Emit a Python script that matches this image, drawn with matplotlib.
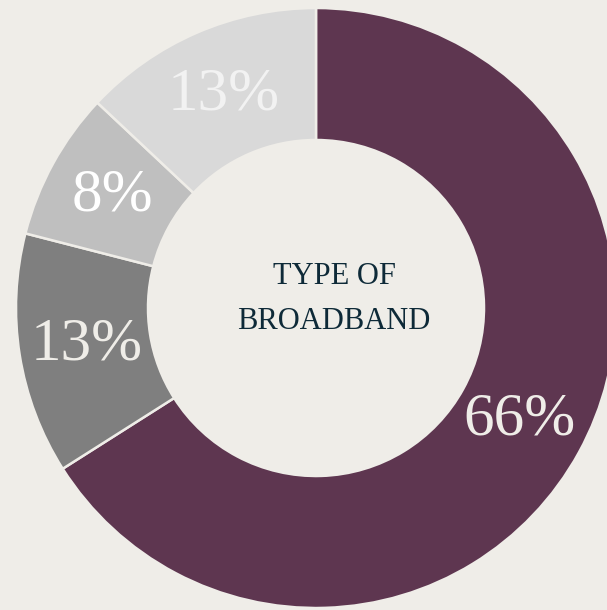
import matplotlib.pyplot as plt
import numpy as np

# broadband type shares (%)
shares = [66, 13, 8, 13]
labels = ["66%", "13%", "8%", "13%"]
colors = ["#5E3650", "#7F7F7F", "#BFBFBF", "#D9D9D9"]
label_colors = ["#EFEDE8", "#EFEDE8", "#FFFFFF", "#F2F2F2"]
center_title = "TYPE OF\nBROADBAND"

bg = "#EFEDE8"

fig = plt.figure(figsize=(6.07, 6.10), dpi=100, facecolor=bg)
ax = fig.add_axes([0, 0, 1, 1])
ax.set_facecolor(bg)

wedges, _ = ax.pie(shares, startangle=90, counterclock=False, colors=colors,
                   radius=1.0,
                   wedgeprops=dict(width=0.44, edgecolor=bg, linewidth=1.8))

# percentage labels at the middle of the ring
start = 90.0
total = float(sum(shares))
for val, lab, lc in zip(shares, labels, label_colors):
    mid = np.deg2rad(start - val / total * 360 / 2)
    start -= val / total * 360
    ax.text(0.775 * np.cos(mid), 0.775 * np.sin(mid), lab,
            ha="center", va="center", fontsize=44, color=lc,
            family="Liberation Serif")

ax.text(0.06, 0.03, center_title, ha="center", va="center",
        fontsize=22, color="#0E2A38", family="Liberation Serif",
        linespacing=1.75)

# pixel-exact placement: 300 px per unit, centre at (316, 308) from top-left
ax.set_xlim(-316 / 300, (607 - 316) / 300)
ax.set_ylim(-(610 - 308) / 300, 308 / 300)
ax.set_aspect("auto")
ax.axis("off")

fig.savefig("out.png", dpi=100, facecolor=bg)
